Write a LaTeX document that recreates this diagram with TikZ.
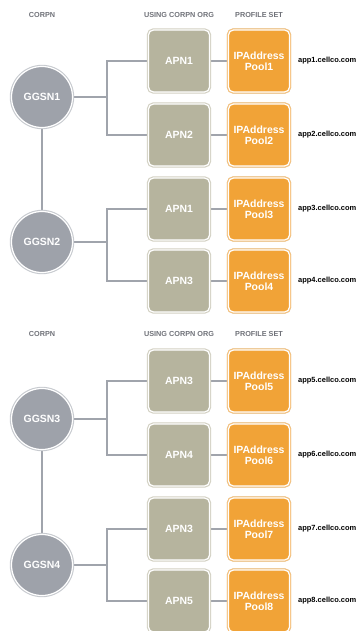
\documentclass[tikz,border=0pt]{standalone}
\usepackage{fontspec}
\setmainfont{Liberation Sans}
\usetikzlibrary{backgrounds}
\definecolor{apnfill}{HTML}{B6B49E}
\definecolor{apnring}{HTML}{D2D0C2}
\definecolor{poolfill}{HTML}{F1A337}
\definecolor{poolring}{HTML}{F6C07A}
\definecolor{gfill}{HTML}{9EA2AA}
\definecolor{gring}{HTML}{C8CBD0}
\definecolor{linec}{HTML}{A0A4AC}
\definecolor{hdr}{HTML}{707279}
\tikzset{
  apnbox/.style={rectangle, rounded corners=5bp, minimum width=61bp, minimum height=62bp,
    fill=apnfill, draw=white, line width=1.2bp, preaction={draw=apnring, line width=3.4bp},
    text=white, font=\bfseries\fontsize{10.5}{11.5}\selectfont, inner sep=0pt},
  poolbox/.style={apnbox, fill=poolfill, preaction={draw=poolring, line width=3.4bp}, align=center},
  ggsn/.style={circle, minimum size=61bp, fill=gfill, draw=white, line width=1.2bp,
    preaction={draw=gring, line width=3.4bp}, text=white, font=\bfseries\fontsize{10.5}{11.5}\selectfont, inner sep=0pt},
  hdrtxt/.style={text=hdr, font=\bfseries\fontsize{7.3}{8}\selectfont, inner sep=0pt},
  urltxt/.style={anchor=west, font=\bfseries\fontsize{7.5}{8}\selectfont, inner sep=0pt},
  conn/.style={draw=linec, line width=2.6bp}
}
\begin{document}
\begin{tikzpicture}[x=1bp,y=-1bp]
\useasboundingbox (0,0) rectangle (360,631);
% ---------- top section ----------
\node[hdrtxt] (h1) at (42,15) {CORPN};
\node[hdrtxt] (h2) at (179,15) {USING CORPN ORG};
\node[hdrtxt] (h3) at (259,15) {PROFILE SET};

\node[ggsn] (g1) at (42,97) {GGSN1};
\node[ggsn] (g2) at (42,242) {GGSN2};

\node[apnbox] (a1) at (179,61) {APN1};
\node[apnbox] (a2) at (179,135) {APN2};
\node[apnbox] (a3) at (179,209) {APN1};
\node[apnbox] (a4) at (179,281) {APN3};

\node[poolbox] (p1) at (259,61) {IPAddress\\Pool1};
\node[poolbox] (p2) at (259,135) {IPAddress\\Pool2};
\node[poolbox] (p3) at (259,209) {IPAddress\\Pool3};
\node[poolbox] (p4) at (259,281) {IPAddress\\Pool4};

\node[urltxt] (u1) at (298,61) {app1.cellco.com};
\node[urltxt] (u2) at (298,135) {app2.cellco.com};
\node[urltxt] (u3) at (298,209) {app3.cellco.com};
\node[urltxt] (u4) at (298,281) {app4.cellco.com};

\coordinate (j1) at (107,97);
\coordinate (j2) at (107,242);

% ---------- bottom section ----------
\node[hdrtxt] (h4) at (42,334) {CORPN};
\node[hdrtxt] (h5) at (179,334) {USING CORPN ORG};
\node[hdrtxt] (h6) at (259,334) {PROFILE SET};

\node[ggsn] (g3) at (42,419) {GGSN3};
\node[ggsn] (g4) at (42,565) {GGSN4};

\node[apnbox] (a5) at (179,381) {APN3};
\node[apnbox] (a6) at (179,455) {APN4};
\node[apnbox] (a7) at (179,529) {APN3};
\node[apnbox] (a8) at (179,601) {APN5};

\node[poolbox] (p5) at (259,381) {IPAddress\\Pool5};
\node[poolbox] (p6) at (259,455) {IPAddress\\Pool6};
\node[poolbox] (p7) at (259,529) {IPAddress\\Pool7};
\node[poolbox] (p8) at (259,601) {IPAddress\\Pool8};

\node[urltxt] (u5) at (298,381) {app5.cellco.com};
\node[urltxt] (u6) at (298,455) {app6.cellco.com};
\node[urltxt] (u7) at (298,529) {app7.cellco.com};
\node[urltxt] (u8) at (298,601) {app8.cellco.com};

\coordinate (j3) at (107,419);
\coordinate (j4) at (107,565);

% ---------- connectors (behind nodes) ----------
\begin{pgfonlayer}{background}
\draw[conn] (g1) -- (g2);
\draw[conn] (g3) -- (g4);
\draw[conn] (g1) -- (j1);
\draw[conn] (g2) -- (j2);
\draw[conn] (g3) -- (j3);
\draw[conn] (g4) -- (j4);
\draw[conn] (j1) |- (a1);
\draw[conn] (j1) |- (a2);
\draw[conn] (j2) |- (a3);
\draw[conn] (j2) |- (a4);
\draw[conn] (j3) |- (a5);
\draw[conn] (j3) |- (a6);
\draw[conn] (j4) |- (a7);
\draw[conn] (j4) |- (a8);
\draw[conn] (a1) -- (p1);
\draw[conn] (a2) -- (p2);
\draw[conn] (a3) -- (p3);
\draw[conn] (a4) -- (p4);
\draw[conn] (a5) -- (p5);
\draw[conn] (a6) -- (p6);
\draw[conn] (a7) -- (p7);
\draw[conn] (a8) -- (p8);
\end{pgfonlayer}
\end{tikzpicture}
\end{document}
